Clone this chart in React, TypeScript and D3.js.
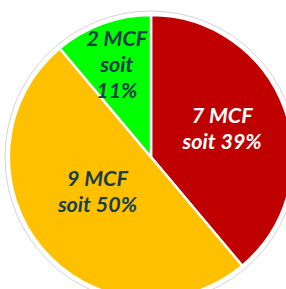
import React from "react";
import * as d3 from "d3";

const categories = ["7 MCF", "9 MCF", "2 MCF"];
const values = [7, 9, 2];
const percents = ["39%", "50%", "11%"];
const colors = ["#C00000", "#FFC000", "#00FF00"];
const textColors = ["#FFFFFF", "#163F4A", "#163F4A"];
const labelRadius = [80, 66, 100];
const labelShift = [[-4, -2], [-3, -8], [0, 1]];

const W = 286;
const H = 289;
const cx = 151;
const cy = 157;
const R = 142;

export default function App() {
  const pie = d3.pie<number>().sort(null).value((d) => d);
  const arcs = pie(values);
  const arcGen = d3.arc<d3.PieArcDatum<number>>().innerRadius(0).outerRadius(R);
  const lineH = 26;
  return (
    <svg
      width={W}
      height={H}
      style={{ position: "absolute", left: 0, top: 0, display: "block" }}
    >
      <rect width={W} height={H} fill="#fff" />
      <g transform={`translate(${cx},${cy})`}>
        <circle r={R + 4} fill="none" stroke="#d4d4d4" strokeWidth={1} />
        {arcs.map((a, i) => (
          <path key={i} d={arcGen(a) || ""} fill={colors[i]} stroke="#fff" strokeWidth={2.5} />
        ))}
        {arcs.map((a, i) => {
          const la = d3.arc<d3.PieArcDatum<number>>().innerRadius(labelRadius[i]).outerRadius(labelRadius[i]);
          const [x0, y] = la.centroid(a);
          const x = x0 + labelShift[i][0];
          const lines = i === 2 ? [categories[i], "soit", percents[i]] : [categories[i], "soit " + percents[i]];
          const y0 = y + labelShift[i][1] - ((lines.length - 1) * lineH) / 2;
          return (
            <text
              key={"t" + i}
              x={x}
              y={y0}
              textAnchor="middle"
              fill={textColors[i]}
              fontFamily="Lato, sans-serif"
              fontStyle="italic"
              fontWeight={700}
              fontSize={21.5}
              dominantBaseline="central"
            >
              {lines.map((l, j) => (
                <tspan key={j} x={x} y={y0 + j * lineH}>
                  {l}
                </tspan>
              ))}
            </text>
          );
        })}
      </g>
    </svg>
  );
}
